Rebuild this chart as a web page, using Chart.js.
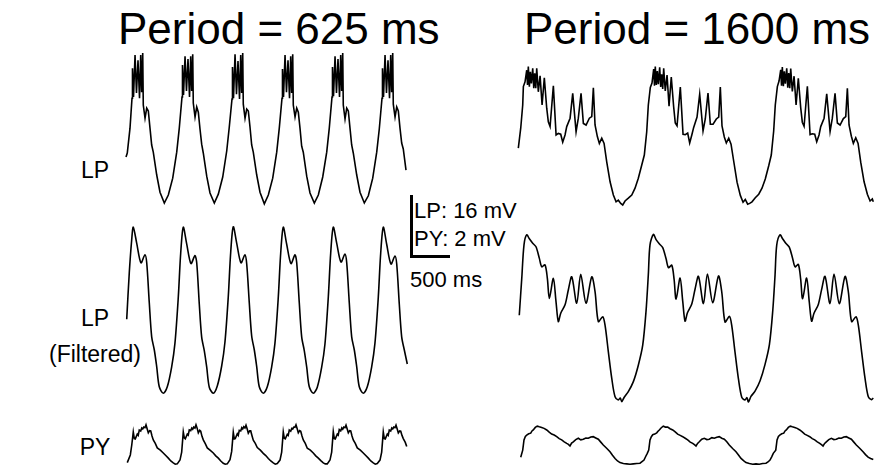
<!DOCTYPE html>
<html lang="en">
<head>
  <meta charset="UTF-8">
  <title>LP / PY traces</title>
  <script src="https://cdn.jsdelivr.net/npm/chart.js@4"></script>
  <style>
    body { margin: 0; background: #fff; width: 875px; height: 467px; position: relative; overflow: hidden;
           font-family: "Liberation Sans", Arial, sans-serif; color: #000; }
    canvas { position: absolute; }
    .txt { position: absolute; white-space: nowrap; line-height: 1; }
    .title { font-size: 44px; top: 7px; }
    .lab { font-size: 23px; left: 45px; width: 100px; text-align: center; }
    .sb { font-size: 22px; }
    .bar { position: absolute; background: #000; }
  </style>
</head>
<body>

  <div class="txt title" style="left:118px">Period = 625 ms</div>
  <div class="txt title" style="left:524px">Period = 1600 ms</div>

  <div class="txt lab" style="top:159px">LP</div>
  <div class="txt lab" style="top:307px">LP</div>
  <div class="txt lab" style="top:343px">(Filtered)</div>
  <div class="txt lab" style="top:436px">PY</div>

  <div class="bar" style="left:410px; top:195px; width:3px; height:63px"></div>
  <div class="bar" style="left:410px; top:255px; width:40px; height:3px"></div>
  <div class="txt sb" style="left:414px; top:200px">LP: 16 mV</div>
  <div class="txt sb" style="left:414px; top:228px">PY: 2 mV</div>
  <div class="txt sb" style="left:410px; top:269px">500 ms</div>

  <canvas id="fastChart" width="320" height="427" style="left:100px; top:40px"></canvas>
  <canvas id="slowChart" width="370" height="427" style="left:505px; top:40px"></canvas>

  <script>
    // [time ms, value]. LP in mV, PY in mV (different gain)

    // --- period 625 ms ---
    const lpFast = [
      [0,-48.5],[16,-47.5],[50,-41.3],
      [75,-33.8],[81,-26.3],[94,-33.5],[113,-23],[131,-32.5],[150,-24.3],[169,-33.8],[184,-23],[196,-32.3],[209,-22.5],[216,-35.5],[238,-38.8],[259,-36.3],[279,-37],[300,-41.3],[321,-45.5],[341,-47.3],[384,-53],[425,-57.3],[479,-60],[529,-58],[584,-53.8],[634,-47.3],[666,-41.3],
      [700,-33.5],[706,-25.5],[719,-33],[738,-23.3],[756,-32],[775,-24],[794,-33.5],[809,-23.3],[821,-32],[834,-22.8],[841,-35],[863,-38.5],[884,-36],[904,-37.3],[925,-41.5],[946,-45.3],[966,-47.5],[1009,-53.3],[1050,-57.5],[1104,-60],[1154,-57.8],[1209,-53.5],[1259,-47],[1291,-41],
      [1325,-34],[1331,-26],[1344,-33.8],[1363,-22.8],[1381,-32.8],[1400,-24.5],[1419,-34],[1434,-23],[1446,-32.5],[1459,-22.5],[1466,-35.3],[1488,-38.8],[1509,-36.5],[1529,-37],[1550,-41],[1571,-45.5],[1591,-47.3],[1634,-53],[1675,-57.3],[1729,-60.2],[1779,-58],[1834,-53.8],[1884,-47.3],[1916,-41.3],
      [1950,-33.8],[1956,-26.5],[1969,-33.5],[1988,-23],[2006,-32.3],[2025,-24.3],[2044,-33.8],[2059,-23.3],[2071,-32.5],[2084,-22.8],[2091,-35.5],[2113,-38.5],[2134,-36.3],[2154,-37.3],[2175,-41.3],[2196,-45.8],[2216,-47.3],[2259,-53.3],[2300,-57.5],[2354,-60],[2404,-58],[2459,-53.5],[2509,-47.3],[2541,-41.3],
      [2575,-33.5],[2581,-26],[2594,-33.3],[2613,-23.3],[2631,-32.5],[2650,-24],[2669,-33.5],[2684,-23],[2696,-32],[2709,-22.5],[2716,-35.5],[2738,-39],[2759,-36.3],[2779,-37],[2800,-41.3],[2821,-45.5],[2841,-47.5],[2884,-53],[2925,-57.3],[2979,-60],[3029,-58.2],[3084,-53.8],[3134,-47.3],[3166,-41.5],
      [3200,-33.8],[3206,-26.3],[3219,-33.5],[3238,-23],[3256,-32.5],[3275,-24.3],[3294,-33.8],[3309,-23],[3321,-32.3],[3334,-22.5],[3341,-35.3],[3363,-38.5],[3384,-36],[3404,-37],[3425,-41.3],[3446,-45],[3466,-46.5],[3500,-51.8]
    ];

    const lpFastFilt = [
      [9,-2.3],[41,9.3],[71,17.5],
      [91,20.7],[133,16.8],[187,11.8],[237,13.8],[259,11.8],[291,1.8],[321,-6.7],[354,-10],[384,-14.2],[416,-19.2],[466,-20.8],[516,-19.2],[571,-14.2],[612,-8.3],[654,3.3],[684,14.3],
      [716,20.7],[758,16.6],[812,11.6],[862,13.6],[884,11.8],[916,1.5],[946,-6.8],[979,-10.2],[1009,-14.3],[1041,-19.3],[1091,-20.8],[1141,-19],[1196,-14],[1237,-8],[1279,3.5],[1309,14.5],
      [1341,20.8],[1383,16.8],[1437,11.8],[1487,13.8],[1509,11.5],[1541,1.8],[1571,-6.5],[1604,-10],[1634,-14.2],[1666,-19.2],[1716,-20.8],[1766,-19.2],[1821,-14.2],[1862,-8.3],[1904,3.3],[1934,14.3],
      [1966,20.7],[2008,16.5],[2062,11.6],[2112,13.8],[2134,11.8],[2166,1.8],[2196,-6.7],[2229,-10.2],[2259,-14.3],[2291,-19.2],[2341,-20.8],[2391,-19.3],[2446,-14.3],[2487,-8.5],[2529,3.3],[2559,14.3],
      [2591,20.7],[2633,16.8],[2687,12],[2737,14],[2759,11.8],[2791,1.8],[2821,-6.7],[2854,-10],[2884,-14.2],[2916,-19.2],[2966,-20.8],[3016,-19.2],[3071,-14.2],[3112,-8.3],[3154,3.3],[3184,14.3],
      [3216,20.7],[3258,16.5],[3312,11.5],[3362,13.5],[3384,11.5],[3416,1.5],[3446,-6.7],[3479,-10],[3516,-13.5]
    ];

    const pyFast = [
      [16,-0.55],[54,-0.31],[72,0],
      [91,0.41],[104,0.2],[116,0.19],[141,0.34],[153,0.3],[166,0.47],[184,0.44],[197,0.53],[209,0.5],[222,0.56],[237,0.54],[250,0.63],[265,0.5],[279,0.38],[296,0.45],[309,0.44],[325,0.28],[341,0.16],[366,0.05],[391,-0.09],[429,-0.16],[466,-0.25],[497,-0.33],[529,-0.41],[560,-0.5],[591,-0.56],[616,-0.6],[641,-0.59],[675,-0.47],[696,-0.22],
      [716,0.41],[729,0.22],[741,0.19],[766,0.34],[778,0.31],[791,0.47],[809,0.45],[822,0.53],[834,0.49],[847,0.56],[862,0.53],[875,0.63],[890,0.52],[904,0.38],[921,0.46],[934,0.43],[950,0.27],[966,0.16],[991,0.04],[1016,-0.09],[1054,-0.17],[1091,-0.25],[1122,-0.34],[1154,-0.41],[1185,-0.5],[1216,-0.57],[1241,-0.6],[1266,-0.59],[1300,-0.46],[1321,-0.2],
      [1341,0.4],[1354,0.19],[1366,0.2],[1391,0.35],[1403,0.3],[1416,0.46],[1434,0.44],[1447,0.54],[1459,0.5],[1472,0.57],[1487,0.53],[1500,0.62],[1515,0.5],[1529,0.37],[1546,0.44],[1559,0.44],[1575,0.29],[1591,0.15],[1616,0.05],[1641,-0.08],[1679,-0.16],[1716,-0.26],[1747,-0.33],[1779,-0.42],[1810,-0.5],[1841,-0.56],[1866,-0.6],[1891,-0.58],[1925,-0.47],[1946,-0.22],
      [1966,0.41],[1979,0.21],[1991,0.19],[2016,0.33],[2028,0.3],[2041,0.47],[2059,0.43],[2072,0.52],[2084,0.5],[2097,0.56],[2112,0.55],[2125,0.63],[2140,0.51],[2154,0.38],[2171,0.45],[2184,0.43],[2200,0.28],[2216,0.16],[2241,0.05],[2266,-0.1],[2304,-0.16],[2341,-0.25],[2372,-0.34],[2404,-0.41],[2435,-0.49],[2466,-0.56],[2491,-0.59],[2516,-0.59],[2550,-0.47],[2571,-0.22],
      [2591,0.42],[2604,0.2],[2616,0.19],[2641,0.34],[2653,0.31],[2666,0.48],[2684,0.44],[2697,0.53],[2709,0.49],[2722,0.56],[2737,0.54],[2750,0.62],[2765,0.5],[2779,0.38],[2796,0.45],[2809,0.44],[2825,0.28],[2841,0.16],[2866,0.05],[2891,-0.09],[2929,-0.16],[2966,-0.25],[2997,-0.33],[3029,-0.41],[3060,-0.5],[3091,-0.56],[3116,-0.6],[3141,-0.58],[3175,-0.47],[3196,-0.22],
      [3216,0.41],[3229,0.2],[3241,0.19],[3266,0.34],[3278,0.3],[3291,0.47],[3309,0.44],[3322,0.53],[3334,0.5],[3347,0.56],[3362,0.54],[3375,0.62],[3390,0.5],[3404,0.38],[3421,0.44],[3434,0.43],[3450,0.3],[3466,0.2],[3491,0.08],[3509,-0.05]
    ];

    // --- period 1600 ms ---
    const lpSlow = [
      [4,-45.8],[34,-40.8],[59,-35],
      [67,-30.4],[88,-29.2],[109,-26.3],[119,-30],[129,-25.4],[142,-30.4],[154,-26.7],[167,-29.6],[184,-25.8],[197,-30.8],[209,-27.1],[222,-30.8],[234,-25.8],[254,-31.7],[276,-27.7],[301,-35],[329,-28.2],[359,-35.8],[379,-39.2],[401,-40.4],[442,-30.2],[476,-42.5],[504,-42.1],[534,-42.3],[559,-44.3],[588,-42.5],[609,-40.4],[651,-38.3],[684,-32.1],[726,-41.7],[754,-38.3],[788,-32.1],[817,-39.6],[851,-40],[892,-38.3],[922,-37.9],[942,-30.7],[963,-40],[992,-42.9],[1017,-44.6],[1047,-43.3],[1076,-44.6],[1109,-49.2],[1151,-54.2],[1192,-57.5],[1226,-59.2],[1254,-58.8],[1284,-59.6],[1309,-60],[1338,-59],[1379,-58.3],[1422,-57.5],[1463,-55.8],[1504,-53.3],[1547,-50],[1579,-47.5],[1609,-41.7],[1629,-35],
      [1654,-30.6],[1675,-29.5],[1696,-26],[1706,-30.2],[1716,-25.4],[1729,-30],[1741,-26.5],[1754,-29.8],[1771,-25.6],[1784,-30.5],[1796,-27.3],[1809,-31],[1821,-25.8],[1841,-31.5],[1863,-27.5],[1888,-35.3],[1916,-28],[1946,-35.5],[1966,-39.5],[1988,-40.2],[2029,-30.5],[2063,-42.3],[2091,-42.4],[2121,-42],[2146,-44.5],[2175,-42.3],[2196,-40.6],[2238,-38],[2271,-32.3],[2313,-41.5],[2341,-38.5],[2375,-32],[2404,-39.8],[2438,-39.8],[2479,-38.5],[2509,-38],[2529,-30.5],[2550,-40.2],[2579,-43],[2604,-44.5],[2634,-43.3],[2663,-44.8],[2696,-49],[2738,-54.3],[2779,-57.6],[2813,-59.3],[2841,-58.6],[2871,-59.8],[2896,-59.6],[2925,-59.2],[2966,-58.2],[3009,-57.3],[3050,-55.8],[3091,-53.5],[3134,-50.2],[3166,-47.5],[3196,-41.5],[3216,-35],
      [3242,-30.4],[3263,-29],[3284,-26.2],[3294,-30.2],[3304,-25.5],[3317,-30.3],[3329,-26.6],[3342,-29.7],[3359,-25.8],[3372,-30.7],[3384,-27],[3397,-30.8],[3409,-25.9],[3429,-31.6],[3451,-27.8],[3476,-35],[3504,-28.3],[3534,-35.7],[3554,-39.3],[3576,-40.3],[3617,-30.3],[3651,-42.4],[3679,-42.2],[3709,-42.3],[3734,-44.2],[3763,-42.5],[3784,-40.4],[3826,-38.3],[3859,-32.2],[3901,-41.6],[3929,-38.3],[3963,-32.1],[3992,-39.5],[4026,-40],[4067,-38.4],[4097,-37.9],[4117,-30.8],[4138,-40],[4167,-42.8],[4192,-44.6],[4222,-43.2],[4251,-44.6],[4284,-49.3],[4326,-54.2],[4367,-57.3],[4401,-59],[4429,-58.5],[4441,-59.2]
    ];

    const lpSlowFilt = [
      [16,-1.3],[47,7.9],[75,16.3],
      [109,18.8],[142,17.8],[184,16.7],[225,15.8],[267,12.9],[297,10.8],[338,11.3],[367,7.9],[392,2.9],[442,7.9],[475,2.1],[504,-2.9],[534,-0.8],[588,1.3],[629,5],[672,8.3],[734,1.7],[784,8.9],[850,1.7],[922,8.3],[963,4.6],[1004,-2.9],[1059,-1.7],[1088,-3.8],[1129,-10.4],[1172,-17.1],[1213,-21.7],[1254,-22.5],[1278,-22],[1297,-22.9],[1328,-21.8],[1379,-20.4],[1442,-17.9],[1504,-13.8],[1559,-8.8],[1600,-0.4],[1629,8.8],[1650,16.3],
      [1693,18.9],[1726,17.6],[1768,16.5],[1809,15.6],[1851,12.8],[1881,10.6],[1922,11.2],[1951,7.7],[1976,2.7],[2026,8],[2059,2.2],[2088,-2.8],[2118,-0.7],[2172,1.5],[2213,5.2],[2256,8.4],[2318,1.6],[2368,9],[2434,1.8],[2506,8.5],[2547,4.5],[2588,-3],[2643,-1.6],[2672,-3.9],[2713,-10.6],[2756,-17.3],[2797,-21.8],[2838,-22.5],[2862,-21.9],[2881,-23],[2912,-21.6],[2963,-20.3],[3026,-17.7],[3088,-13.6],[3143,-8.6],[3184,-0.3],[3213,8.7],[3234,16.2],
      [3275,18.8],[3308,17.8],[3350,16.6],[3391,15.7],[3433,12.9],[3463,10.8],[3504,11.4],[3533,7.8],[3558,2.8],[3608,8],[3641,2],[3670,-2.8],[3700,-0.8],[3754,1.4],[3795,5.1],[3838,8.4],[3900,1.6],[3950,9],[4016,1.6],[4088,8.4],[4129,4.6],[4170,-2.9],[4225,-1.7],[4254,-3.8],[4295,-10.4],[4338,-17.1],[4379,-21.7],[4420,-22.4],[4441,-22]
    ];

    const pySlow = [
      [34,-0.38],[59,-0.16],
      [75,0.16],[92,0.27],[109,0.31],[134,0.35],[159,0.37],[175,0.44],[191,0.47],[216,0.55],[241,0.59],[266,0.57],[296,0.55],[326,0.52],[359,0.47],[390,0.4],[421,0.34],[452,0.31],[484,0.26],[515,0.2],[546,0.16],[578,0.1],[609,0.05],[630,0.02],[650,-0.03],[670,0.06],[691,0.1],[722,0.17],[754,0.21],[785,0.16],[816,0.18],[848,0.22],[879,0.21],[910,0.25],[941,0.26],[972,0.22],[1004,0.18],[1035,0.09],[1066,0],[1108,-0.1],[1150,-0.21],[1181,-0.32],[1213,-0.42],[1244,-0.5],[1275,-0.55],[1317,-0.58],[1359,-0.59],[1400,-0.6],[1441,-0.59],[1483,-0.58],[1525,-0.57],[1550,-0.52],[1575,-0.47],[1596,-0.36],[1616,-0.26],[1634,-0.16],
      [1650,0.16],[1667,0.26],[1684,0.32],[1709,0.34],[1734,0.38],[1750,0.43],[1766,0.47],[1791,0.54],[1816,0.59],[1841,0.56],[1871,0.56],[1901,0.51],[1934,0.47],[1965,0.41],[1996,0.34],[2027,0.3],[2059,0.26],[2090,0.21],[2121,0.16],[2153,0.09],[2184,0.05],[2205,0.01],[2225,-0.03],[2245,0.05],[2266,0.1],[2297,0.18],[2329,0.21],[2360,0.17],[2391,0.18],[2423,0.23],[2454,0.21],[2485,0.24],[2516,0.26],[2547,0.21],[2579,0.18],[2610,0.1],[2641,0],[2683,-0.11],[2725,-0.21],[2756,-0.31],[2788,-0.42],[2819,-0.49],[2850,-0.55],[2892,-0.58],[2934,-0.6],[2975,-0.59],[3016,-0.6],[3058,-0.58],[3100,-0.57],[3125,-0.53],[3150,-0.47],[3171,-0.37],[3191,-0.26],[3222,-0.16],
      [3238,0.16],[3255,0.27],[3272,0.31],[3297,0.35],[3322,0.37],[3338,0.44],[3354,0.47],[3379,0.55],[3404,0.59],[3429,0.57],[3459,0.55],[3489,0.52],[3522,0.47],[3553,0.41],[3584,0.34],[3615,0.3],[3647,0.26],[3678,0.2],[3709,0.16],[3741,0.1],[3772,0.05],[3793,0.01],[3813,-0.03],[3833,0.05],[3854,0.1],[3885,0.17],[3917,0.21],[3948,0.17],[3979,0.18],[4011,0.22],[4042,0.21],[4073,0.25],[4104,0.26],[4135,0.22],[4167,0.18],[4198,0.09],[4229,0],[4271,-0.1],[4313,-0.21],[4344,-0.3],[4376,-0.38],[4408,-0.42],[4441,-0.45]
    ];

    // layout: where each trace sits on the page (px), scale from the bars
    const MS_PER_PX = 12.5;
    const LP_PX_PER_MV = 4;
    const PY_PX_PER_MV = 32;
    const CANVAS_TOP = 40, CANVAS_H = 427;

    // y axis range so that value refV lands at page row refPx
    function yRange(refPx, refV, pxPerUnit) {
      const max = refV + (refPx - CANVAS_TOP) / pxPerUnit;
      return { min: max - CANVAS_H / pxPerUnit, max };
    }

    function hidden(range) {
      return { type: "linear", display: false, min: range.min, max: range.max };
    }

    function trace(pairs, axis, tension) {
      return {
        data: pairs.map(([x, y]) => ({ x, y })),
        yAxisID: axis,
        borderColor: "#000",
        borderWidth: 1.6,
        pointRadius: 0,
        tension: tension || 0,
        fill: false
      };
    }

    function panel(id, canvasLeft, zeroPx, width, sets, axes) {
      const xMin = (canvasLeft - zeroPx) * MS_PER_PX;
      const xMax = xMin + width * MS_PER_PX;
      const scales = { x: { type: "linear", display: false, min: xMin, max: xMax } };
      for (const k in axes) scales[k] = hidden(axes[k]);
      new Chart(document.getElementById(id), {
        type: "line",
        data: { datasets: sets },
        options: {
          responsive: false,
          animation: false,
          devicePixelRatio: 1,
          layout: { padding: 0 },
          plugins: { legend: { display: false }, tooltip: { enabled: false } },
          scales
        }
      });
    }

    panel("fastChart", 100, 126, 320, [
      trace(lpFast, "yLP"),
      trace(lpFastFilt, "yF", 0.3),
      trace(pyFast, "yPY")
    ], {
      yLP: yRange(203, -60, LP_PX_PER_MV),
      yF: yRange(310, 0, LP_PX_PER_MV),
      yPY: yRange(445, 0, PY_PX_PER_MV)
    });

    panel("slowChart", 505, 518, 370, [
      trace(lpSlow, "yLP"),
      trace(lpSlowFilt, "yF", 0.3),
      trace(pySlow, "yPY")
    ], {
      yLP: yRange(205, -60, LP_PX_PER_MV),
      yF: yRange(310, 0, LP_PX_PER_MV),
      yPY: yRange(445, 0, PY_PX_PER_MV)
    });
  </script>
</body>
</html>
